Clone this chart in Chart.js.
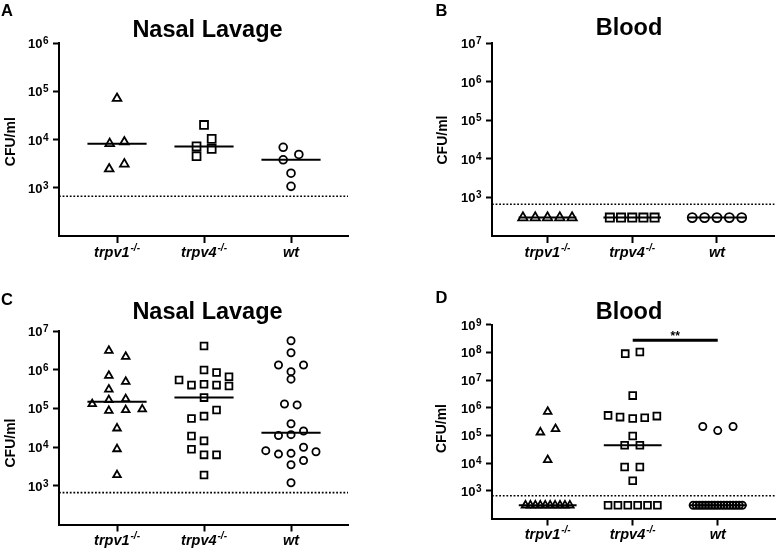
<!DOCTYPE html>
<html>
<head>
<meta charset="utf-8">
<script src="https://cdn.jsdelivr.net/npm/chart.js@4.4.1/dist/chart.umd.min.js"></script>
<style>
  html, body { margin: 0; padding: 0; background: #fff; }
  #wrap { position: relative; width: 782px; height: 553px; }
  #wrap canvas { position: absolute; }
</style>
</head>
<body>
<div id="wrap">
  <canvas id="cA" width="391" height="276" style="left:0;top:0"></canvas>
  <canvas id="cB" width="391" height="276" style="left:391px;top:0"></canvas>
  <canvas id="cC" width="391" height="277" style="left:0;top:276px"></canvas>
  <canvas id="cD" width="391" height="277" style="left:391px;top:276px"></canvas>
</div>
<script>
const FONT = '"Liberation Sans", Arial, sans-serif';

// groups on the x axis (drawn at 1, 2, 3)
const categories = ['trpv1', 'trpv4', 'wt'];
const catSup = ['-/-', '-/-', ''];
const LOD = 667;      // detection limit (dotted line)

// A - nasal lavage, CFU/ml
const aTrpv1 = [7.1e4, 8.2e3, 8.9e3, 2.45e3, 3.1e3];
const aTrpv1Dx = [0, -0.084, 0.084, -0.09, 0.084];
const aTrpv4 = [2.0e4, 7.2e3, 1.03e4, 4.5e3, 6.4e3];
const aTrpv4Dx = [0, -0.086, 0.088, -0.086, 0.088];
const aWt = [6.9e3, 4.9e3, 3.8e3, 2.0e3, 1.07e3];
const aWtDx = [-0.09, 0.09, -0.09, 0, 0];

// B - blood, all below detection (plotted at 300)
const bTrpv1 = [300, 300, 300, 300, 300];
const bTrpv4 = [300, 300, 300, 300, 300];
const bWt = [300, 300, 300, 300, 300];

// C - nasal lavage
const cTrpv1 = [3.1e6, 2.17e6, 7.0e5, 4.9e5, 3.1e5, 1.3e5, 1.65e5, 1.75e5, 8.7e4, 9.1e4, 9.5e4, 3.06e4, 8.9e3, 1.9e3];
const cTrpv1Dx = [-0.094, 0.1, -0.094, 0.1, -0.094, -0.285, -0.094, 0.1, -0.094, 0.1, 0.29, 0, 0, 0];
const cTrpv4 = [4.1e6, 9.8e5, 8.5e5, 6.6e5, 5.4e5, 4.0e5, 4.2e5, 4.0e5, 3.8e5, 1.9e5, 9.1e4, 6.3e4, 5.5e4, 1.94e4, 1.45e4, 8.8e3, 6.3e3, 6.3e3, 1.9e3];
const cTrpv4Dx = [0, 0, 0.144, 0.287, -0.287, -0.144, 0, 0.144, 0.287, 0, 0.144, 0, -0.144, -0.144, 0, -0.144, 0, 0.144, 0];
const cWt = [5.6e6, 2.75e6, 1.32e6, 1.32e6, 8.9e5, 5.7e5, 1.3e5, 1.23e5, 4.0e4, 2.6e4, 2.1e4, 2.0e4, 9.9e3, 8.1e3, 7.6e3, 6.9e3, 6.6e3, 4.5e3, 3.5e3, 1.2e3];
const cWtDx = [0, 0, -0.144, 0.144, 0, 0, -0.075, 0.07, 0, 0.144, 0, -0.144, 0.144, -0.29, 0.287, 0, -0.144, 0.144, 0, 0];

// D - blood (values below detection plotted at 300)
const dTrpv1 = [7.2e5, 1.3e5, 1.73e5, 1.3e4, 300, 300, 300, 300, 300, 300, 300, 300, 300, 300];
const dTrpv1Dx = [0, -0.086, 0.092, 0];
const dTrpv4 = [9.0e7, 1.03e8, 2.75e6, 5.3e5, 4.6e5, 4.1e5, 4.35e5, 5.0e5, 9.5e4, 4.4e4, 4.4e4, 7.2e3, 7.2e3, 2.3e3, 300, 300, 300, 300, 300, 300];
const dTrpv4Dx = [-0.088, 0.084, 0, -0.29, -0.149, 0, 0.141, 0.284, 0, -0.095, 0.084, -0.095, 0.084, 0];
const dWt = [2.1e5, 1.5e5, 2.1e5, 300, 300, 300, 300, 300, 300, 300, 300, 300, 300, 300, 300, 300, 300, 300, 300, 300];
const dWtDx = [-0.176, 0, 0.18];
const dSigBar = 2.75e8;   // ** trpv4 vs wt

// centred horizontal spread for a row of points below detection
function row(n, step) {
  const out = [];
  for (let i = 0; i < n; i++) out.push((i - (n - 1) / 2) * step);
  return out;
}

function median(vals) {
  const s = vals.slice().sort((a, b) => a - b);
  const m = Math.floor(s.length / 2);
  return s.length % 2 ? s[m] : (s[m - 1] + s[m]) / 2;
}

function makePanel(id, p) {
  const canvas = document.getElementById(id);
  const W = canvas.width, H = canvas.height;
  const datasets = [];

  // detection limit
  datasets.push({
    data: [{ x: p.xMin, y: LOD }, { x: p.xMax, y: LOD }],
    showLine: true, pointRadius: 0, borderColor: '#000', borderWidth: 1.6,
    borderDash: [1.8, 1.8], clip: false
  });

  p.groups.forEach((g, gi) => {
    const c = gi + 1;
    const med = median(g.vals);
    datasets.push({
      data: [{ x: c - 0.34, y: med }, { x: c + 0.34, y: med }],
      showLine: true, pointRadius: 0, borderColor: '#000', borderWidth: 2, clip: false
    });
    datasets.push({
      data: g.vals.map((v, i) => ({ x: c + g.dx[i], y: v })),
      pointStyle: g.style, pointRadius: g.r, pointBorderWidth: 1.8,
      pointBorderColor: '#000', pointBackgroundColor: 'rgba(0,0,0,0)',
      showLine: false, clip: false
    });
  });

  if (p.sig) {
    datasets.push({
      data: [{ x: p.sig[0], y: p.sig[2] }, { x: p.sig[1], y: p.sig[2] }],
      showLine: true, pointRadius: 0, borderColor: '#000', borderWidth: 3, clip: false
    });
  }

  const text = {
    id: 'panelText',
    afterDraw(chart) {
      const ctx = chart.ctx, xs = chart.scales.x, ys = chart.scales.y, area = chart.chartArea;
      ctx.save();
      ctx.fillStyle = '#000';
      ctx.textBaseline = 'alphabetic';

      ctx.textAlign = 'left';
      ctx.font = 'bold 16.5px ' + FONT;
      ctx.fillText(p.letter, p.letterPos[0], p.letterPos[1]);

      ctx.textAlign = 'center';
      ctx.font = 'bold 23.5px ' + FONT;
      ctx.fillText(p.title, p.titlePos[0], p.titlePos[1]);

      ctx.save();
      ctx.translate(p.yTitlePos[0], p.yTitlePos[1]);
      ctx.rotate(-Math.PI / 2);
      ctx.font = 'bold 14px ' + FONT;
      ctx.textBaseline = 'middle';
      ctx.fillText('CFU/ml', 0, 0);
      ctx.restore();

      // y tick labels 10^n
      ctx.textAlign = 'left';
      ys.ticks.forEach(t => {
        const y = ys.getPixelForValue(t.value);
        const e = String(Math.round(Math.log10(t.value)));
        ctx.font = 'bold 10px ' + FONT;
        const ew = ctx.measureText(e).width;
        ctx.font = 'bold 13px ' + FONT;
        const bw = ctx.measureText('10').width;
        const right = area.left - 10.5;
        ctx.fillText('10', right - ew - bw - 0.5, y + 5);
        ctx.font = 'bold 10px ' + FONT;
        ctx.fillText(e, right - ew, y + 1);
      });

      // x labels, italic with -/- superscript
      categories.forEach((name, i) => {
        const x = xs.getPixelForValue(i + 1);
        const y = area.bottom + 20.5;
        ctx.font = 'italic bold 14.5px ' + FONT;
        const nw = ctx.measureText(name).width;
        ctx.font = 'italic bold 10px ' + FONT;
        const sw = catSup[i] ? ctx.measureText(catSup[i]).width + 1 : 0;
        const x0 = x - (nw + sw) / 2;
        ctx.font = 'italic bold 14.5px ' + FONT;
        ctx.fillText(name, x0, y);
        if (catSup[i]) {
          ctx.font = 'italic bold 10px ' + FONT;
          ctx.fillText(catSup[i], x0 + nw + 1, y - 6);
        }
      });

      if (p.sig) {
        ctx.textAlign = 'center';
        ctx.font = 'bold 12px ' + FONT;
        const sx = xs.getPixelForValue((p.sig[0] + p.sig[1]) / 2);
        const sy = ys.getPixelForValue(p.sig[2]);
        ctx.fillText('**', sx, sy - 0.5);
      }
      ctx.restore();
    }
  };

  return new Chart(canvas, {
    type: 'scatter',
    data: { datasets },
    options: {
      responsive: false,
      animation: false,
      events: [],
      layout: { padding: { left: p.area[0], top: p.area[1], right: W - p.area[2], bottom: H - p.area[3] } },
      plugins: { legend: { display: false }, tooltip: { enabled: false } },
      scales: {
        x: {
          type: 'linear', min: p.xMin, max: p.xMax,
          afterBuildTicks: s => { s.ticks = [1, 2, 3].map(v => ({ value: v })); },
          afterFit: s => { s.height = 0; },
          ticks: { display: false },
          grid: { display: true, drawOnChartArea: false, drawTicks: true, tickLength: 7, tickWidth: 2, tickColor: '#000' },
          border: { display: true, color: '#000', width: 2 }
        },
        y: {
          type: 'logarithmic', min: 100, max: p.yMax,
          afterBuildTicks: s => { s.ticks = p.yTicks.map(v => ({ value: v })); },
          afterFit: s => { s.width = 0; },
          ticks: { display: false },
          grid: { display: true, drawOnChartArea: false, drawTicks: true, tickLength: 6, tickWidth: 2, tickColor: '#000' },
          border: { display: true, color: '#000', width: 2 }
        }
      }
    },
    plugins: [text]
  });
}

makePanel('cA', {
  letter: 'A', letterPos: [1, 16], title: 'Nasal Lavage', titlePos: [207.5, 36.7], yTitlePos: [11, 141.7],
  area: [59, 43, 348, 236], xMin: 0.333, xMax: 3.655, yMax: 1e6, yTicks: [1e3, 1e4, 1e5, 1e6],
  groups: [
    { vals: aTrpv1, dx: aTrpv1Dx, style: 'triangle', r: 5 },
    { vals: aTrpv4, dx: aTrpv4Dx, style: 'rect', r: 5.6 },
    { vals: aWt, dx: aWtDx, style: 'circle', r: 3.9 }
  ]
});

makePanel('cB', {
  letter: 'B', letterPos: [44.5, 16], title: 'Blood', titlePos: [238, 35], yTitlePos: [52.5, 140],
  area: [101, 43, 391, 236], xMin: 0.345, xMax: 3.678, yMax: 1e7, yTicks: [1e3, 1e4, 1e5, 1e6, 1e7],
  groups: [
    { vals: bTrpv1, dx: row(5, 0.145), style: 'triangle', r: 5.4 },
    { vals: bTrpv4, dx: row(5, 0.132), style: 'rect', r: 5.8 },
    { vals: bWt, dx: row(5, 0.146), style: 'circle', r: 4.5 }
  ]
});

makePanel('cC', {
  letter: 'C', letterPos: [1, 28.8], title: 'Nasal Lavage', titlePos: [207.5, 42.7], yTitlePos: [11, 167],
  area: [59, 55, 348, 248.5], xMin: 0.333, xMax: 3.655, yMax: 1e7, yTicks: [1e3, 1e4, 1e5, 1e6, 1e7],
  groups: [
    { vals: cTrpv1, dx: cTrpv1Dx, style: 'triangle', r: 4.4 },
    { vals: cTrpv4, dx: cTrpv4Dx, style: 'rect', r: 4.8 },
    { vals: cWt, dx: cWtDx, style: 'circle', r: 3.6 }
  ]
});

makePanel('cD', {
  letter: 'D', letterPos: [44.5, 27.2], title: 'Blood', titlePos: [238, 42.7], yTitlePos: [51, 152.5],
  area: [101, 48.7, 391, 242.5], xMin: 0.345, xMax: 3.678, yMax: 1e9,
  yTicks: [1e3, 1e4, 1e5, 1e6, 1e7, 1e8, 1e9],
  groups: [
    { vals: dTrpv1, dx: dTrpv1Dx.concat(row(10, 0.058)), style: 'triangle', r: 4.4 },
    { vals: dTrpv4, dx: dTrpv4Dx.concat(row(6, 0.116)), style: 'rect', r: 4.8 },
    { vals: dWt, dx: dWtDx.concat(row(17, 0.036)), style: 'circle', r: 3.6 }
  ],
  sig: [2, 3, dSigBar]
});
</script>
</body>
</html>
